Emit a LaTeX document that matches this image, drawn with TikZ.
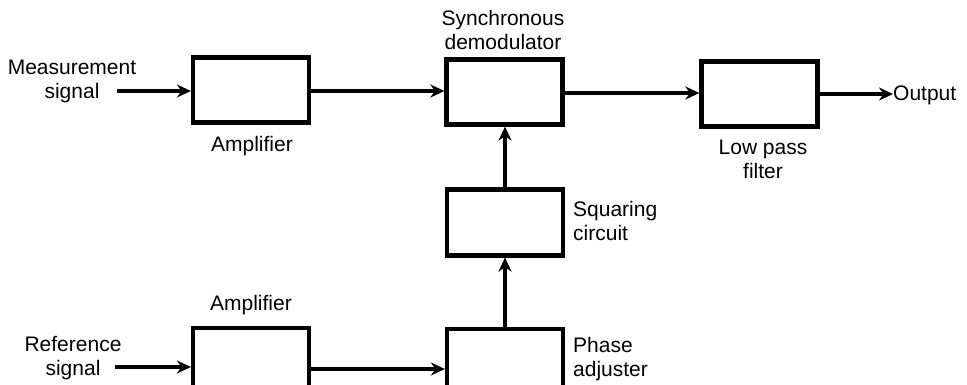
\documentclass[tikz,border=0pt]{standalone}
\usepackage{fontspec}
\setmainfont{Liberation Sans}
\usetikzlibrary{arrows.meta}
\begin{document}
\begin{tikzpicture}[x=1pt,y=-1pt,
  blk/.style={draw,line width=4.2pt,minimum width=#1,minimum height=65pt,inner sep=0pt},
  blk/.default=116pt,
  conn/.style={line width=3.2pt,-{Stealth[length=14pt,width=13pt,inset=4.5pt]}},
  lbl/.style={align=center,inner sep=0pt,font=\fontsize{21}{24}\selectfont}]
\useasboundingbox (0,0) rectangle (967,384);
\clip (0,0) rectangle (967,384);
% blocks
\node[blk] (amp1) at (251,90) {};
\node[blk] (sync) at (504.5,92) {};
\node[blk] (lpf) at (759.5,94) {};
\node[blk,minimum height=66pt] (sq) at (505,222.5) {};
\node[blk,minimum height=66pt] (amp2) at (251,361) {};
\node[blk,minimum height=66pt] (ph) at (505,362) {};
% labels
\node[lbl] (tmeas) at (72,81) {Measurement\\signal};
\node[lbl] (tamp1) at (252,146) {Amplifier};
\node[lbl] (tsync) at (503,30) {Synchronous\\demodulator};
\node[lbl] (tlpf) at (763,159) {Low pass\\filter};
\node[lbl,anchor=west] (tout) at (893,95) {Output};
\node[lbl,anchor=west,align=left] (tsq) at (573,221) {Squaring\\circuit};
\node[lbl] (tamp2) at (251,305) {Amplifier};
\node[lbl] (tref) at (73,358) {Reference\\signal};
\node[lbl,anchor=west,align=left] (tph) at (573,359) {Phase\\adjuster};
% connector end points
\coordinate (m1) at (117,91);
\coordinate (a1) at (311,91);
\coordinate (s1) at (565,93);
\coordinate (l1) at (820,94);
\coordinate (r1) at (115,367);
\coordinate (a2) at (310,369);
% connectors
\draw[conn] (m1) -- (m1 -| amp1.west);
\draw[conn] (a1) -- (a1 -| sync.west);
\draw[conn] (s1) -- (s1 -| lpf.west);
\draw[conn] (l1) -- (l1 -| tout.west);
\draw[conn] (sq.north) -- (sq.north |- sync.south);
\draw[conn] (ph.north) -- (ph.north |- sq.south);
\draw[conn] (r1) -- (r1 -| amp2.west);
\draw[conn] (a2) -- (a2 -| ph.west);
\end{tikzpicture}
\end{document}
